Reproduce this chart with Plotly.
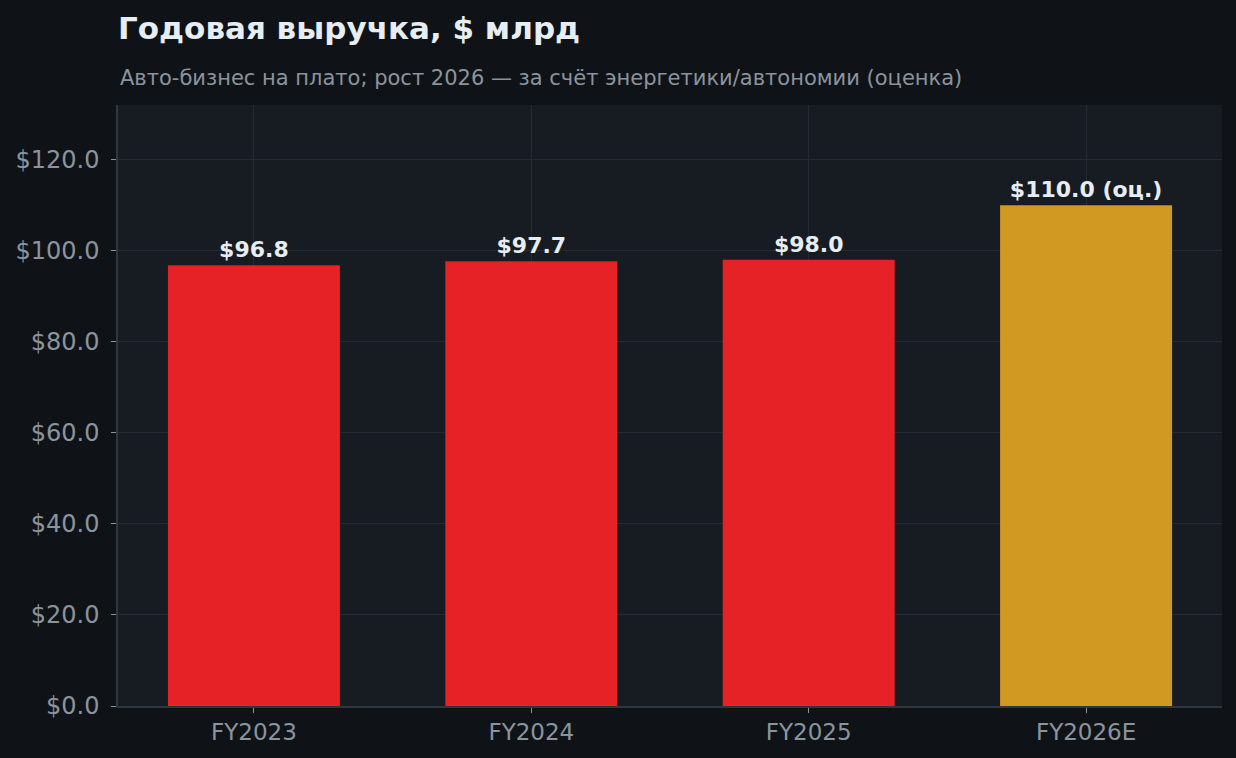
import plotly.graph_objects as go

years = ["FY2023", "FY2024", "FY2025", "FY2026E"]
revenue = [96.8, 97.7, 98.0, 110.0]
labels = ["$96.8", "$97.7", "$98.0", "$110.0 (оц.)"]
colors = ["#e62227", "#e62227", "#e62227", "#d19822"]

FONT = "DejaVu Sans"

fig = go.Figure(
    go.Bar(
        x=years,
        y=revenue,
        width=0.62,
        marker=dict(color=colors, line=dict(width=0)),
        text=labels,
        textposition="outside",
        cliponaxis=False,
        textfont=dict(family=FONT, size=22, color="#e6edf3", weight="bold"),
    )
)

fig.update_layout(
    width=1236,
    height=758,
    paper_bgcolor="#0f1317",
    plot_bgcolor="#171b22",
    margin=dict(l=118, r=14, t=105, b=52),
    font=dict(family=FONT, color="#8b949e"),
    showlegend=False,
    title=dict(
        text="<b>Годовая выручка, $ млрд</b>",
        x=118 / 1236, xanchor="left",
        y=1 - 28 / 758, yanchor="middle",
        font=dict(family=FONT, size=31, color="#e6edf3"),
    ),
    annotations=[
        dict(
            text="Авто-бизнес на плато; рост 2026 — за счёт энергетики/автономии (оценка)",
            xref="paper", yref="paper",
            x=0, xanchor="left",
            y=1 + 27 / 601, yanchor="middle",
            showarrow=False,
            font=dict(family=FONT, size=21, color="#8b949e"),
        )
    ],
)

fig.update_xaxes(
    range=[-0.49, 3.49],
    showgrid=True, gridcolor="#252a33", gridwidth=1,
    showline=True, linecolor="#30363d", linewidth=1.5,
    ticks="outside", ticklen=5, tickcolor="#8b949e",
    tickfont=dict(family=FONT, size=23, color="#8b949e"),
)
fig.update_yaxes(
    range=[0, 132],
    dtick=20, tickformat="$.1f",
    showgrid=True, gridcolor="#252a33", gridwidth=1,
    zeroline=False,
    showline=True, linecolor="#30363d", linewidth=1.5,
    ticks="outside", ticklen=5, tickcolor="#8b949e",
    ticklabelstandoff=7,
    tickfont=dict(family=FONT, size=24, color="#8b949e"),
)

# drop the default page margin so the dark background reaches the edges
fig.write_html(
    "out.html",
    config={"displayModeBar": False},
    post_script="document.body.style.margin='0';document.body.style.background='#0f1317';",
)
